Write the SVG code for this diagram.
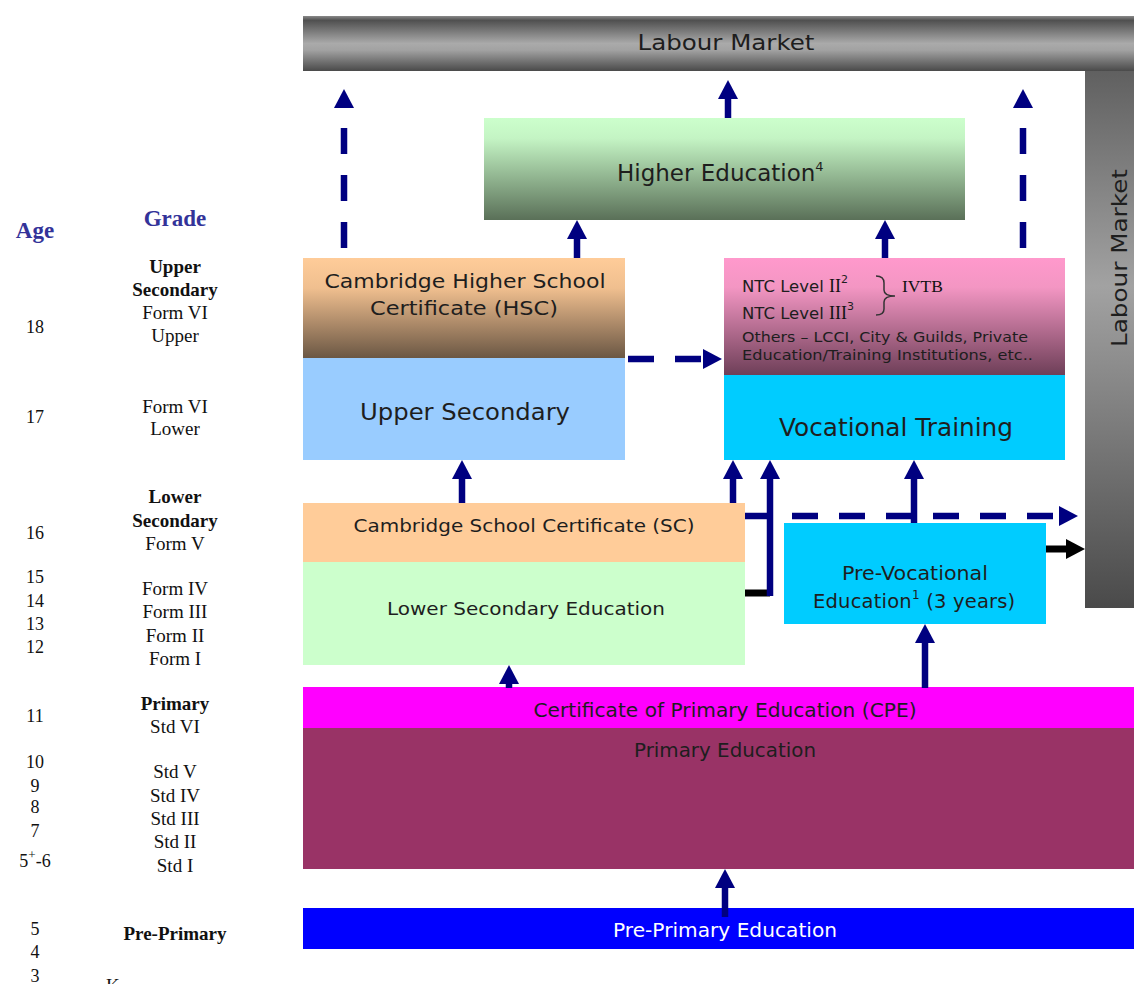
<svg xmlns="http://www.w3.org/2000/svg" width="1134" height="984" viewBox="0 0 1134 984">
<style>
.bx{font-family:"DejaVu Sans",Verdana,sans-serif;fill:#1e1e1e;text-anchor:middle}
.st{text-anchor:start}
.sr{font-family:"Liberation Serif","Times New Roman",serif;fill:#111}
.ag{font-family:"Liberation Serif","Times New Roman",serif;font-size:18px;fill:#111;text-anchor:middle}
.gr{font-family:"Liberation Serif","Times New Roman",serif;font-size:19px;fill:#111;text-anchor:middle}
.b{font-weight:bold}
.hd{font-family:"Liberation Serif","Times New Roman",serif;font-size:23px;font-weight:bold;fill:#333399;text-anchor:middle}
.sh{fill:none;stroke:#000080;stroke-width:6.5}
.dsh{fill:none;stroke:#000080;stroke-width:6.5;stroke-dasharray:26 21}
.blk{fill:none;stroke:#000;stroke-width:7}
</style>
<defs>
<linearGradient id="gTop" x1="0" y1="0" x2="0" y2="1">
<stop offset="0" stop-color="#8a8a8a"/><stop offset="0.08" stop-color="#505050"/><stop offset="0.5" stop-color="#aaaaaa"/><stop offset="0.62" stop-color="#a2a2a2"/><stop offset="1" stop-color="#4a4a4a"/>
</linearGradient>
<linearGradient id="gRight" x1="0" y1="0" x2="0" y2="1">
<stop offset="0" stop-color="#606060"/><stop offset="0.4" stop-color="#a2a2a2"/><stop offset="1" stop-color="#4a4a4a"/>
</linearGradient>
<linearGradient id="gHE" x1="0" y1="0" x2="0" y2="1">
<stop offset="0" stop-color="#ccffcc"/><stop offset="0.2" stop-color="#c4f4c4"/><stop offset="1" stop-color="#5a7058"/>
</linearGradient>
<linearGradient id="gHSC" x1="0" y1="0" x2="0" y2="1">
<stop offset="0" stop-color="#ffcc99"/><stop offset="0.3" stop-color="#f0bf8f"/><stop offset="1" stop-color="#6b5744"/>
</linearGradient>
<linearGradient id="gNTC" x1="0" y1="0" x2="0" y2="1">
<stop offset="0" stop-color="#ff99cc"/><stop offset="0.25" stop-color="#f396c3"/><stop offset="1" stop-color="#6e3f58"/>
</linearGradient>
<marker id="ah" viewBox="0 0 19 20" refX="9" refY="10" markerWidth="19" markerHeight="20" markerUnits="userSpaceOnUse" orient="auto">
<path d="M0,0 L19,10 L0,20 z" fill="#000080"/>
</marker>
<marker id="ahk" viewBox="0 0 19 20" refX="9" refY="10" markerWidth="19" markerHeight="20" markerUnits="userSpaceOnUse" orient="auto">
<path d="M0,0 L19,10 L0,20 z" fill="#000"/>
</marker>
</defs>
<rect width="1134" height="984" fill="#fff"/>

<g id="labour-market-top">
<rect x="303" y="16" width="831" height="55" fill="url(#gTop)"/>
<text class="bx" x="726" y="50" font-size="21" textLength="177" lengthAdjust="spacingAndGlyphs" fill="#333">Labour Market</text>
</g>
<g id="labour-market-right">
<rect x="1085" y="71" width="49" height="537" fill="url(#gRight)"/>
<text class="bx" transform="translate(1127,258) rotate(-90)" x="0" y="0" font-size="21" textLength="178" lengthAdjust="spacingAndGlyphs" fill="#333">Labour Market</text>
</g>
<g id="higher-education">
<rect x="484" y="118" width="481" height="102" fill="url(#gHE)"/>
<text class="bx st" x="617" y="181" font-size="23">Higher Education<tspan font-size="13" dy="-10">4</tspan></text>
</g>
<g id="hsc">
<rect x="303" y="258" width="322" height="100" fill="url(#gHSC)"/>
<text class="bx" x="465" y="288" font-size="20" textLength="281" lengthAdjust="spacingAndGlyphs">Cambridge Higher School</text>
<text class="bx" x="464" y="315" font-size="20" textLength="188" lengthAdjust="spacingAndGlyphs">Certificate (HSC)</text>
</g>
<g id="upper-secondary">
<rect x="303" y="358" width="322" height="102" fill="#99ccff"/>
<text class="bx" x="465" y="420" font-size="23.5" textLength="210" lengthAdjust="spacingAndGlyphs">Upper Secondary</text>
</g>
<g id="ntc">
<rect x="724" y="258" width="341" height="117" fill="url(#gNTC)"/>
<text class="bx st" x="742" y="292" font-size="16.5">NTC Level <tspan class="sr" font-size="18">II</tspan><tspan font-size="11" dy="-9">2</tspan></text>
<text class="bx st" x="742" y="319" font-size="16.5">NTC Level <tspan class="sr" font-size="18">III</tspan><tspan font-size="11" dy="-9">3</tspan></text>
<path d="M876,276 Q884,276 884,283 L884,290 Q884,296 895,296 Q884,296 884,302 L884,309 Q884,315 876,315" fill="none" stroke="#333" stroke-width="1.5"/>
<text class="sr" x="902" y="292" font-size="17.5" fill="#1e1e1e">IVTB</text>
<text class="bx st" x="742" y="342" font-size="14.5" textLength="286" lengthAdjust="spacingAndGlyphs">Others – LCCI, City &amp; Guilds, Private</text>
<text class="bx st" x="742" y="360" font-size="14.5" textLength="291" lengthAdjust="spacingAndGlyphs">Education/Training  Institutions, etc..</text>
</g>
<g id="vocational-training">
<rect x="724" y="375" width="341" height="85" fill="#00ccff"/>
<text class="bx" x="896" y="436" font-size="24" textLength="234" lengthAdjust="spacingAndGlyphs">Vocational Training</text>
</g>
<g id="sc">
<rect x="303" y="503" width="442" height="59" fill="#ffcc99"/>
<text class="bx" x="524" y="532" font-size="18.5" textLength="341" lengthAdjust="spacingAndGlyphs">Cambridge School Certificate (SC)</text>
</g>
<g id="lower-secondary">
<rect x="303" y="562" width="442" height="103" fill="#ccffcc"/>
<text class="bx" x="526" y="615" font-size="18" textLength="278" lengthAdjust="spacingAndGlyphs">Lower Secondary Education</text>
</g>
<g id="pre-vocational">
<rect x="784" y="523" width="262" height="101" fill="#00ccff"/>
<text class="bx" x="915" y="580" font-size="19" textLength="146" lengthAdjust="spacingAndGlyphs">Pre-Vocational</text>
<text class="bx st" x="813" y="608" font-size="19.5" letter-spacing="0.2">Education<tspan font-size="12" dy="-9">1</tspan><tspan dy="9"> (3 years)</tspan></text>
</g>
<g id="cpe">
<rect x="303" y="687" width="831" height="41" fill="#ff00ff"/>
<text class="bx" x="725" y="717" font-size="19" textLength="383" lengthAdjust="spacingAndGlyphs">Certificate of Primary Education (CPE)</text>
</g>
<g id="primary">
<rect x="303" y="728" width="831" height="141" fill="#993366"/>
<text class="bx" x="725" y="757" font-size="19" textLength="182" lengthAdjust="spacingAndGlyphs">Primary Education</text>
</g>
<g id="pre-primary">
<rect x="303" y="908" width="831" height="41" fill="#0000ff"/>
<text class="bx" x="725" y="937" font-size="19" textLength="224" lengthAdjust="spacingAndGlyphs" fill="#fff" style="fill:#fff">Pre-Primary Education</text>
</g>

<g id="connectors">
<path class="sh" d="M728,118 V90" marker-end="url(#ah)"/>
<path class="sh" d="M577,258 V230" marker-end="url(#ah)"/>
<path class="sh" d="M885,258 V230" marker-end="url(#ah)"/>
<path class="dsh" d="M344,248 V99" marker-end="url(#ah)"/>
<path class="dsh" d="M1023,248 V99" marker-end="url(#ah)"/>
<path class="dsh" d="M628,359 H712" marker-end="url(#ah)"/>
<path class="sh" d="M462,503 V470" marker-end="url(#ah)"/>
<path class="sh" d="M733,503 V470" marker-end="url(#ah)"/>
<path class="blk" d="M745,593 H770"/>
<path class="sh" d="M770,596 V470" marker-end="url(#ah)"/>
<path class="dsh" d="M745,516 H1068" marker-end="url(#ah)"/>
<path class="sh" d="M914,523 V470" marker-end="url(#ah)"/>
<path class="sh" d="M509,688 V675" marker-end="url(#ah)"/>
<path class="sh" d="M925,688 V634" marker-end="url(#ah)"/>
<path class="sh" d="M725,917 V879" marker-end="url(#ah)"/>
<path class="blk" d="M1046,549 H1075" marker-end="url(#ahk)"/>
</g>

<g id="age-grade-column">
<text class="hd" x="35" y="238">Age</text>
<text class="hd" x="175" y="226">Grade</text>
<text class="ag" x="35" y="333">18</text>
<text class="ag" x="35" y="423">17</text>
<text class="ag" x="35" y="539">16</text>
<text class="ag" x="35" y="583">15</text>
<text class="ag" x="35" y="607">14</text>
<text class="ag" x="35" y="630">13</text>
<text class="ag" x="35" y="653">12</text>
<text class="ag" x="35" y="722">11</text>
<text class="ag" x="35" y="768">10</text>
<text class="ag" x="35" y="792">9</text>
<text class="ag" x="35" y="813">8</text>
<text class="ag" x="35" y="837">7</text>
<text class="ag" x="35" y="867">5<tspan font-size="13" dy="-8">+</tspan><tspan dy="8">-6</tspan></text>
<text class="ag" x="35" y="935">5</text>
<text class="ag" x="35" y="958">4</text>
<text class="ag" x="35" y="982">3</text>
<text class="gr b" x="175" y="273">Upper</text>
<text class="gr b" x="175" y="296">Secondary</text>
<text class="gr" x="175" y="319">Form VI</text>
<text class="gr" x="175" y="342">Upper</text>
<text class="gr" x="175" y="413">Form VI</text>
<text class="gr" x="175" y="435">Lower</text>
<text class="gr b" x="175" y="503">Lower</text>
<text class="gr b" x="175" y="527">Secondary</text>
<text class="gr" x="175" y="550">Form V</text>
<text class="gr" x="175" y="595">Form IV</text>
<text class="gr" x="175" y="618">Form III</text>
<text class="gr" x="175" y="642">Form II</text>
<text class="gr" x="175" y="665">Form I</text>
<text class="gr b" x="175" y="710">Primary</text>
<text class="gr" x="175" y="733">Std VI</text>
<text class="gr" x="175" y="778">Std V</text>
<text class="gr" x="175" y="802">Std IV</text>
<text class="gr" x="175" y="825">Std III</text>
<text class="gr" x="175" y="848">Std II</text>
<text class="gr" x="175" y="872">Std I</text>
<text class="gr b" x="175" y="940">Pre-Primary</text>
<text class="gr" x="106" y="992" style="text-anchor:start">K</text>
</g>
</svg>
